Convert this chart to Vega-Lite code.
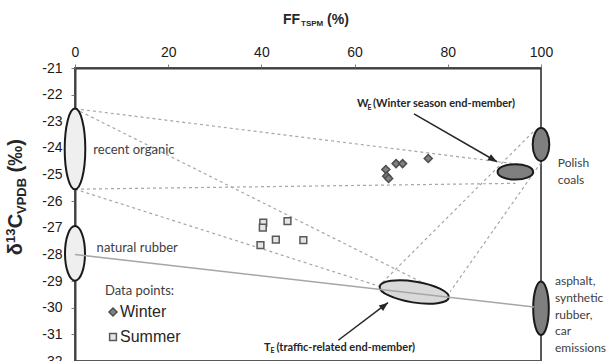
{
  "$schema": "https://vega.github.io/schema/vega-lite/v6.json",
  "width": 466,
  "height": 293,
  "autosize": {"type": "none"},
  "padding": {"left": 75, "top": 68, "right": 67, "bottom": 0},
  "background": "white",
  "config": {
    "view": {"stroke": "#595959", "strokeWidth": 2},
    "axis": {
      "grid": false,
      "title": null,
      "labelFont": "Liberation Sans",
      "labelFontSize": 14,
      "labelColor": "#1a1a1a",
      "tickColor": "#7f7f7f",
      "tickSize": 4,
      "tickWidth": 1,
      "domainColor": "#404040",
      "domainWidth": 2,
      "labelFlush": false,
      "labelOverlap": false,
      "labelExpr": "'' + datum.value"
    }
  },
  "datasets": {
    "points": [
      {"season": "Winter", "x": 66.7, "y": -24.81},
      {"season": "Winter", "x": 66.9, "y": -25.06},
      {"season": "Winter", "x": 67.3, "y": -25.15},
      {"season": "Winter", "x": 68.9, "y": -24.59},
      {"season": "Winter", "x": 70.3, "y": -24.59},
      {"season": "Winter", "x": 75.8, "y": -24.40},
      {"season": "Summer", "x": 40.4, "y": -26.81},
      {"season": "Summer", "x": 40.3, "y": -26.99},
      {"season": "Summer", "x": 45.6, "y": -26.75},
      {"season": "Summer", "x": 43.1, "y": -27.44},
      {"season": "Summer", "x": 39.8, "y": -27.65},
      {"season": "Summer", "x": 49.0, "y": -27.46}
    ],
    "endmembers": [
      {"name": "recent organic", "x": 0, "y": -24.04},
      {"name": "natural rubber", "x": 0, "y": -27.96},
      {"name": "Polish coals", "x": 100, "y": -23.87},
      {"name": "WE", "x": 94.5, "y": -24.9},
      {"name": "asphalt", "x": 100, "y": -30.02},
      {"name": "TE", "x": 72.8, "y": -29.41}
    ],
    "segments": [
      {"kind": "mix", "x": 0, "y": -22.53, "x2": 95.5, "y2": -24.62},
      {"kind": "mix", "x": 0, "y": -25.55, "x2": 94.5, "y2": -25.33},
      {"kind": "mix", "x": 0, "y": -22.53, "x2": 80.2, "y2": -29.55},
      {"kind": "mix", "x": 0, "y": -25.55, "x2": 65.4, "y2": -29.2},
      {"kind": "mix", "x": 98.3, "y": -23.4, "x2": 66.0, "y2": -29.05},
      {"kind": "mix", "x": 100, "y": -24.55, "x2": 80.5, "y2": -29.4},
      {"kind": "fit", "x": 0, "y": -28.0, "x2": 98.5, "y2": -29.97}
    ],
    "arrows": [
      {"name": "WE", "x": 90.56, "y": -24.52, "x2": 72.75, "y2": -22.72},
      {"name": "TE", "x": 67.17, "y": -29.81, "x2": 56.5, "y2": -31.22}
    ],
    "notes": [
      {"id": "organic", "text": "recent organic", "x": 3.93, "y": -24.06},
      {"id": "rubber", "text": "natural rubber", "x": 4.64, "y": -27.77},
      {"id": "coals", "text": "Polish\ncoals", "x": 103.6, "y": -24.27},
      {"id": "asphalt", "text": "asphalt,\nsynthetic\nrubber,\ncar\nemissions", "x": 103.0, "y": -28.71}
    ],
    "pieces": [
      {"group": "ann", "role": "main", "text": "W", "x": 60.52, "y": -22.37},
      {"group": "ann", "role": "sub", "text": "E", "x": 62.75, "y": -22.49},
      {"group": "ann", "role": "main", "text": "(Winter season end-member)", "x": 63.95, "y": -22.37},
      {"group": "ann", "role": "main", "text": "T", "x": 40.55, "y": -31.52},
      {"group": "ann", "role": "sub", "text": "E", "x": 41.95, "y": -31.64},
      {"group": "ann", "role": "main", "text": "(traffic-related end-member)", "x": 43.24, "y": -31.52},
      {"group": "xt", "role": "main", "text": "FF", "x": 44.64, "y": -19.21},
      {"group": "xt", "role": "sub", "text": "TSPM", "x": 48.5, "y": -19.36},
      {"group": "xt", "role": "main", "text": "(%)", "x": 54.1, "y": -19.21},
      {"group": "yt", "role": "main", "text": "δ", "x": -12.66, "y": -28.03},
      {"group": "yt", "role": "sub", "text": "13", "x": -13.73, "y": -27.57},
      {"group": "yt", "role": "main", "text": "C", "x": -12.66, "y": -27.02},
      {"group": "yt", "role": "sub", "text": "VPDB", "x": -11.37, "y": -26.48},
      {"group": "yt", "role": "main", "text": "(‰)", "x": -12.66, "y": -24.92}
    ]
  },
  "encoding": {
    "x": {
      "field": "x", "type": "quantitative",
      "scale": {"domain": [0, 100], "nice": false, "zero": false},
      "axis": {"orient": "top", "values": [0, 20, 40, 60, 80, 100], "labelPadding": 5}
    },
    "y": {
      "field": "y", "type": "quantitative",
      "scale": {"domain": [-32, -21], "nice": false, "zero": false},
      "axis": {"orient": "left", "values": [-32, -31, -30, -29, -28, -27, -26, -25, -24, -23, -22, -21], "labelPadding": 9}
    }
  },
  "layer": [
    {
      "data": {"name": "segments"},
      "transform": [{"filter": "datum.kind === 'mix'"}],
      "mark": {"type": "rule", "color": "#a6a6a6", "strokeWidth": 1.2, "strokeDash": [3, 3]},
      "encoding": {"x2": {"field": "x2"}, "y2": {"field": "y2"}}
    },
    {
      "data": {"name": "points"},
      "mark": {"type": "point", "filled": true, "opacity": 1, "strokeWidth": 1.5},
      "encoding": {
        "shape": {"field": "season", "type": "nominal", "scale": {"domain": ["Winter", "Summer"], "range": ["diamond", "square"]},
          "legend": {"orient": "none", "legendX": 30, "legendY": 217, "title": "Data points:", "titleFont": "Lato", "titleFontSize": 13, "titleFontWeight": "normal", "titleColor": "#404040", "labelFont": "Liberation Sans", "labelFontSize": 16, "labelColor": "#262626", "rowPadding": 9, "titlePadding": 6, "labelOffset": -1, "symbolStrokeWidth": 1.5}},
        "fill": {"field": "season", "type": "nominal", "scale": {"domain": ["Winter", "Summer"], "range": ["#808080", "#e6e6e6"]},
          "legend": {"orient": "none", "legendX": 30, "legendY": 217, "title": "Data points:", "titleFont": "Lato", "titleFontSize": 13, "titleFontWeight": "normal", "titleColor": "#404040", "labelFont": "Liberation Sans", "labelFontSize": 16, "labelColor": "#262626", "rowPadding": 9, "titlePadding": 6, "labelOffset": -1, "symbolStrokeWidth": 1.5}},
        "stroke": {"field": "season", "type": "nominal", "scale": {"domain": ["Winter", "Summer"], "range": ["#4d4d4d", "#595959"]},
          "legend": {"orient": "none", "legendX": 30, "legendY": 217, "title": "Data points:", "titleFont": "Lato", "titleFontSize": 13, "titleFontWeight": "normal", "titleColor": "#404040", "labelFont": "Liberation Sans", "labelFontSize": 16, "labelColor": "#262626", "rowPadding": 9, "titlePadding": 6, "labelOffset": -1, "symbolStrokeWidth": 1.5}},
        "size": {"field": "season", "type": "nominal", "scale": {"domain": ["Winter", "Summer"], "range": [64, 46]},
          "legend": {"orient": "none", "legendX": 30, "legendY": 217, "title": "Data points:", "titleFont": "Lato", "titleFontSize": 13, "titleFontWeight": "normal", "titleColor": "#404040", "labelFont": "Liberation Sans", "labelFontSize": 16, "labelColor": "#262626", "rowPadding": 9, "titlePadding": 6, "labelOffset": -1, "symbolStrokeWidth": 1.5}}
      }
    },
    {
      "data": {"name": "endmembers"},
      "transform": [{"filter": "datum.name === 'recent organic'"}],
      "mark": {"type": "point", "shape": "M -10.3 0 A 10.3 40.4 0 1 0 10.3 0 A 10.3 40.4 0 1 0 -10.3 0 Z", "size": 4, "filled": true, "opacity": 1, "fill": "#efefef", "stroke": "#1a1a1a", "strokeWidth": 2}
    },
    {
      "data": {"name": "endmembers"},
      "transform": [{"filter": "datum.name === 'natural rubber'"}],
      "mark": {"type": "point", "shape": "M -10 0 A 10 27.3 0 1 0 10 0 A 10 27.3 0 1 0 -10 0 Z", "size": 4, "filled": true, "opacity": 1, "fill": "#efefef", "stroke": "#1a1a1a", "strokeWidth": 2}
    },
    {
      "data": {"name": "endmembers"},
      "transform": [{"filter": "datum.name === 'Polish coals'"}],
      "mark": {"type": "point", "shape": "M -8.3 0 A 8.3 16.5 0 1 0 8.3 0 A 8.3 16.5 0 1 0 -8.3 0 Z", "size": 4, "filled": true, "opacity": 1, "fill": "#7f7f7f", "stroke": "#1a1a1a", "strokeWidth": 2}
    },
    {
      "data": {"name": "endmembers"},
      "transform": [{"filter": "datum.name === 'WE'"}],
      "mark": {"type": "point", "shape": "M -17.8 0 A 17.8 7.7 0 1 0 17.8 0 A 17.8 7.7 0 1 0 -17.8 0 Z", "size": 4, "filled": true, "opacity": 1, "fill": "#7f7f7f", "stroke": "#1a1a1a", "strokeWidth": 2}
    },
    {
      "data": {"name": "endmembers"},
      "transform": [{"filter": "datum.name === 'asphalt'"}],
      "mark": {"type": "point", "shape": "M -7.8 0 A 7.8 26.7 0 1 0 7.8 0 A 7.8 26.7 0 1 0 -7.8 0 Z", "size": 4, "filled": true, "opacity": 1, "fill": "#7f7f7f", "stroke": "#1a1a1a", "strokeWidth": 2}
    },
    {
      "data": {"name": "endmembers"},
      "transform": [{"filter": "datum.name === 'TE'"}],
      "mark": {"type": "point", "shape": "M -35 0 A 35 10.5 0 1 0 35 0 A 35 10.5 0 1 0 -35 0 Z", "size": 4, "angle": 9, "filled": true, "opacity": 1, "fill": "#d9d9d9", "stroke": "#1a1a1a", "strokeWidth": 2}
    },
    {
      "data": {"name": "segments"},
      "transform": [{"filter": "datum.kind === 'fit'"}],
      "mark": {"type": "rule", "color": "#a6a6a6", "strokeWidth": 1.5},
      "encoding": {"x2": {"field": "x2"}, "y2": {"field": "y2"}}
    },
    {
      "data": {"name": "arrows"},
      "mark": {"type": "rule", "color": "#262626", "strokeWidth": 1.5},
      "encoding": {"x2": {"field": "x2"}, "y2": {"field": "y2"}}
    },
    {
      "data": {"name": "arrows"},
      "transform": [{"filter": "datum.name === 'WE'"}],
      "mark": {"type": "point", "shape": "M 0 0 L -9 -3.5 L -9 3.5 Z", "size": 4, "angle": 30, "filled": true, "opacity": 1, "fill": "#262626", "strokeWidth": 0}
    },
    {
      "data": {"name": "arrows"},
      "transform": [{"filter": "datum.name === 'TE'"}],
      "mark": {"type": "point", "shape": "M 0 0 L -9 -3.5 L -9 3.5 Z", "size": 4, "angle": -38, "filled": true, "opacity": 1, "fill": "#262626", "strokeWidth": 0}
    },
    {
      "data": {"name": "notes"},
      "transform": [{"filter": "datum.id === 'organic' || datum.id === 'rubber'"}],
      "mark": {"type": "text", "align": "left", "baseline": "middle", "font": "Lato", "fontSize": 13, "color": "#404040"},
      "encoding": {"text": {"field": "text"}}
    },
    {
      "data": {"name": "notes"},
      "transform": [{"filter": "datum.id === 'coals' || datum.id === 'asphalt'"}],
      "mark": {"type": "text", "align": "left", "baseline": "line-top", "lineHeight": 16.7, "lineBreak": "\n", "font": "Lato", "fontSize": 12, "color": "#404040"},
      "encoding": {"text": {"field": "text"}}
    },
    {
      "data": {"name": "pieces"},
      "transform": [{"filter": "datum.group === 'ann' && datum.role === 'main'"}],
      "mark": {"type": "text", "align": "left", "baseline": "middle", "font": "Lato", "fontSize": 11, "fontWeight": "bold", "color": "#262626"},
      "encoding": {"text": {"field": "text"}}
    },
    {
      "data": {"name": "pieces"},
      "transform": [{"filter": "datum.group === 'ann' && datum.role === 'sub'"}],
      "mark": {"type": "text", "align": "left", "baseline": "middle", "font": "Lato", "fontSize": 7, "fontWeight": "bold", "color": "#262626"},
      "encoding": {"text": {"field": "text"}}
    },
    {
      "data": {"name": "pieces"},
      "transform": [{"filter": "datum.group === 'xt' && datum.role === 'main'"}],
      "mark": {"type": "text", "align": "left", "baseline": "middle", "font": "Liberation Sans", "fontSize": 14, "fontWeight": "bold", "color": "#262626"},
      "encoding": {"text": {"field": "text"}}
    },
    {
      "data": {"name": "pieces"},
      "transform": [{"filter": "datum.group === 'xt' && datum.role === 'sub'"}],
      "mark": {"type": "text", "align": "left", "baseline": "middle", "font": "Liberation Sans", "fontSize": 8, "fontWeight": "bold", "color": "#262626"},
      "encoding": {"text": {"field": "text"}}
    },
    {
      "data": {"name": "pieces"},
      "transform": [{"filter": "datum.group === 'yt' && datum.role === 'main'"}],
      "mark": {"type": "text", "align": "left", "baseline": "middle", "angle": 270, "font": "Liberation Sans", "fontSize": 20, "fontWeight": "bold", "color": "#262626"},
      "encoding": {"text": {"field": "text"}}
    },
    {
      "data": {"name": "pieces"},
      "transform": [{"filter": "datum.group === 'yt' && datum.role === 'sub'"}],
      "mark": {"type": "text", "align": "left", "baseline": "middle", "angle": 270, "font": "Liberation Sans", "fontSize": 13, "fontWeight": "bold", "color": "#262626"},
      "encoding": {"text": {"field": "text"}}
    }
  ]
}
